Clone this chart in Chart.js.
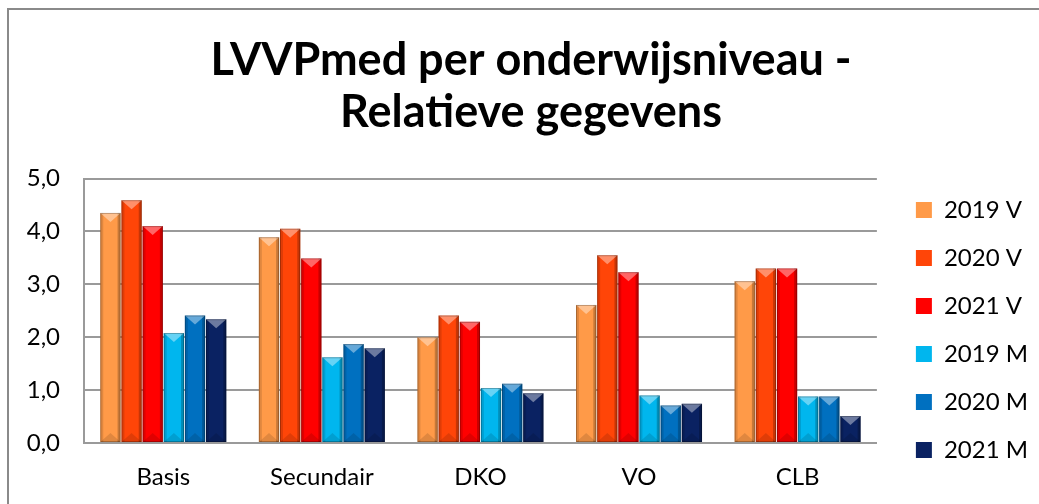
<!DOCTYPE html>
<html>
<head>
<meta charset="utf-8">
<script src="https://cdn.jsdelivr.net/npm/chart.js@4/dist/chart.umd.min.js"></script>
<style>
  html, body { margin: 0; padding: 0; background: #fff; }
  #wrap { position: relative; width: 1039px; height: 504px; overflow: hidden; }
  #frame { position: absolute; left: 7px; top: 8px; width: 1100px; height: 600px;
           border-left: 2px solid #8a8a8a; border-top: 2px solid #8a8a8a; }
  canvas { position: absolute; left: 0; top: 0; }
</style>
</head>
<body>
<div id="wrap">
  <div id="frame"></div>
  <canvas id="chart" width="1039" height="504"></canvas>
</div>
<script>
const categories = ['Basis', 'Secundair', 'DKO', 'VO', 'CLB'];
const seriesNames = ['2019 V', '2020 V', '2021 V', '2019 M', '2020 M', '2021 M'];
const v2019 = [4.35, 3.89, 2.00, 2.61, 3.06];
const v2020 = [4.59, 4.05, 2.41, 3.55, 3.30];
const v2021 = [4.10, 3.49, 2.29, 3.23, 3.30];
const m2019 = [2.08, 1.62, 1.04, 0.90, 0.88];
const m2020 = [2.41, 1.87, 1.12, 0.71, 0.88];
const m2021 = [2.34, 1.79, 0.94, 0.74, 0.51];
const colors = ['#FF9A48', '#FF4508', '#FF0000', '#00B6EE', '#0070C0', '#0A2262'];

const seriesValues = [v2019, v2020, v2021, m2019, m2020, m2021];

// draws the excel-like bevel on each bar
const bevelPlugin = {
  id: 'bevel',
  afterDatasetsDraw(chart) {
    const ctx = chart.ctx;
    chart.data.datasets.forEach((ds, i) => {
      const meta = chart.getDatasetMeta(i);
      meta.data.forEach(bar => {
        const l = bar.x - bar.width / 2, r = bar.x + bar.width / 2;
        const t = bar.y, b = bar.base;
        const e = 3;
        ctx.save();
        ctx.fillStyle = 'rgba(0,0,0,0.12)';
        ctx.fillRect(l, t, e, b - t);
        ctx.fillStyle = 'rgba(0,0,0,0.22)';
        ctx.fillRect(r - e, t, e, b - t);
        ctx.fillStyle = 'rgba(255,255,255,0.4)';
        ctx.beginPath();
        ctx.moveTo(l, t); ctx.lineTo(r, t); ctx.lineTo(bar.x, t + 9); ctx.closePath();
        ctx.fill();
        ctx.fillStyle = 'rgba(0,0,0,0.12)';
        ctx.beginPath();
        ctx.moveTo(l, b); ctx.lineTo(r, b); ctx.lineTo(bar.x, b - 9); ctx.closePath();
        ctx.fill();
        ctx.strokeStyle = 'rgba(0,0,0,0.25)';
        ctx.lineWidth = 1;
        ctx.strokeRect(l + 0.5, t + 0.5, bar.width - 1, b - t - 1);
        ctx.restore();
      });
    });
  }
};

new Chart(document.getElementById('chart'), {
  type: 'bar',
  data: {
    labels: categories,
    datasets: seriesNames.map((name, i) => ({
      label: name,
      data: seriesValues[i],
      backgroundColor: colors[i],
      borderWidth: 0,
      categoryPercentage: 0.8,
      barPercentage: 0.96
    }))
  },
  options: {
    responsive: false,
    animation: false,
    layout: { padding: { left: 24, right: 1, top: 35, bottom: 0 } },
    plugins: {
      title: {
        display: true,
        text: ['LVVPmed per onderwijsniveau -', 'Relatieve gegevens'],
        color: '#000',
        font: { family: 'Lato', size: 45, weight: 'bold', lineHeight: 1.15 },
        padding: { top: 0, bottom: 40 }
      },
      legend: {
        position: 'right',
        align: 'start',
        title: {
          display: true,
          text: '',
          font: { size: 12, lineHeight: 1 },
          padding: { top: 0, bottom: 127 }
        },
        labels: {
          color: '#000',
          font: { family: 'Lato', size: 24 },
          boxWidth: 16,
          boxHeight: 16,
          padding: 24
        }
      },
      tooltip: { enabled: false }
    },
    scales: {
      x: {
        grid: { display: false },
        border: { color: '#9a9a9a', width: 2 },
        ticks: { color: '#000', font: { family: 'Lato', size: 24 }, padding: 12 },
        afterFit: s => { s.height = 61; }
      },
      y: {
        min: 0,
        max: 5,
        grid: { color: '#9a9a9a', lineWidth: 2, drawTicks: false },
        border: { color: '#9a9a9a', width: 2 },
        ticks: {
          stepSize: 1,
          color: '#000',
          font: { family: 'Lato', size: 24 },
          padding: 24,
          callback: v => v.toFixed(1).replace('.', ',')
        },
        afterFit: s => { s.width = 60; }
      },
      // empty spacer between plot and legend
      gap: {
        position: 'right',
        display: true,
        grid: { display: false },
        border: { display: false },
        ticks: { display: false },
        afterFit: s => { s.width = 15; }
      }
    }
  },
  plugins: [bevelPlugin]
});
</script>
</body>
</html>
